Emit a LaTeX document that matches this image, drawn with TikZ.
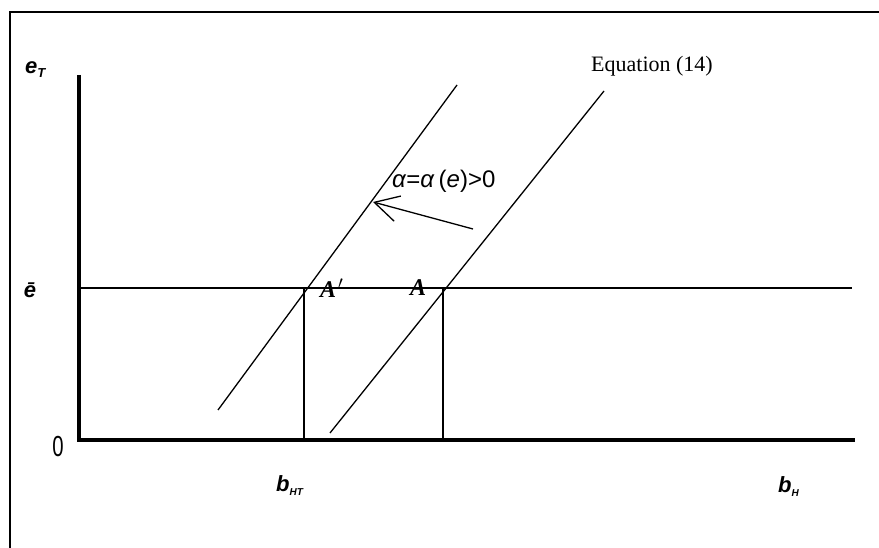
\documentclass[tikz,border=0pt]{standalone}
\usepackage{fontspec}
\setmainfont{Liberation Serif}
\setsansfont{Liberation Sans}
\usetikzlibrary{arrows.meta}
\begin{document}
\begin{tikzpicture}[x=1pt,y=-1pt,
  thinline/.style={line width=1.3pt},
  axisline/.style={line width=3.8pt},
  lbl/.style={inner sep=0pt},
  varlbl/.style={inner sep=0pt,font=\sffamily\bfseries\itshape\fontsize{22}{24}\selectfont}]
\useasboundingbox (0,0) rectangle (879,548);
% frame
\coordinate (fbl) at (10,548);
\coordinate (ftl) at (10,12);
\coordinate (ftr) at (879,12);
\draw[line width=1.5pt] (fbl) -- (ftl) -- (ftr);
% axes
\coordinate (ytop) at (79,75);
\coordinate (ybot) at (79,442);
\coordinate (xbeg) at (77,440);
\coordinate (xend) at (855,440);
\draw[axisline] (ytop) -- (ybot);
\draw[axisline] (xbeg) -- (xend);
% e-bar line
\coordinate (ebl) at (79,288);
\coordinate (ebr) at (852,288);
\draw[thinline] (ebl) -- (ebr);
% diagonals
\coordinate (l1) at (218,410);
\coordinate (l2) at (457,85);
\coordinate (r1) at (330,433);
\coordinate (r2) at (604,91);
\draw[thinline] (l1) -- (l2);
\draw[thinline] (r1) -- (r2);
% verticals
\coordinate (pa) at (304,288);
\coordinate (pab) at (304,440);
\coordinate (pb) at (443,288);
\coordinate (pbb) at (443,440);
\draw[thinline] (pa) -- (pab);
\draw[thinline] (pb) -- (pbb);
% arrow
\coordinate (at) at (473,229);
\coordinate (ah) at (373,202);
\draw[thinline,-{Straight Barb[length=24pt,width=26pt,line width=1.3pt]}] (at) -- (ah);
% labels
\node[varlbl,anchor=west] (eT) at (25,70) {e\raisebox{-4pt}{\fontsize{13}{14}\selectfont T}};
\node[varlbl] (ebar) at (30,290) {\=e};
\node[lbl,font=\sffamily\fontsize{29}{30}\selectfont,xscale=0.7] (zero) at (58,447) {0};
\node[varlbl,anchor=west] (bHT) at (276,486) {b\raisebox{-4pt}{\fontsize{10}{12}\selectfont HT}};
\node[varlbl,anchor=west] (bH) at (778,487) {b\raisebox{-4pt}{\fontsize{10}{12}\selectfont H}};
\node[lbl,anchor=west,font=\bfseries\itshape\fontsize{24}{26}\selectfont] (Ap) at (320,288) {A\kern2pt$'$};
\node[lbl,anchor=west,font=\bfseries\itshape\fontsize{24}{26}\selectfont] (A) at (410,288) {A};
\node[lbl,anchor=west,font=\sffamily\fontsize{24}{26}\selectfont] (alpha) at (392,181) {\textit{α}=\textit{α}\,(\textit{e})>0};
\node[lbl,anchor=west,font=\fontsize{22}{24}\selectfont] (eq) at (591,66) {Equation (14)};
\end{tikzpicture}
\end{document}
